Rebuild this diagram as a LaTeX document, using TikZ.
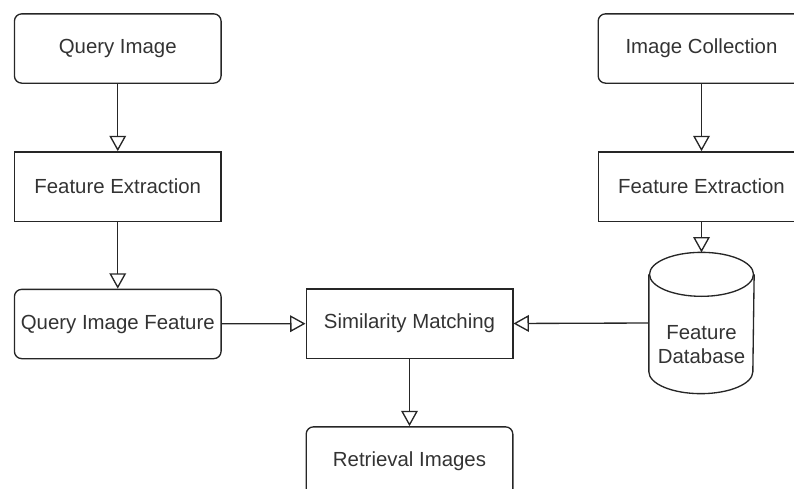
\documentclass[tikz,border=0pt]{standalone}
\usepackage{fontspec}
\setmainfont{Liberation Sans}
\usetikzlibrary{arrows.meta}

\begin{document}
\begin{tikzpicture}[x=0.75pt,y=-0.75pt,line width=1pt]
        \tikzstyle{step box}=[rectangle,draw=black!85,minimum width=155pt,minimum height=52pt,inner sep=0pt,text=black!80,font=\fontsize{15.3}{18}\selectfont]
        \tikzstyle{terminal}=[step box,rounded corners=5.5pt]
        \tikzstyle{edge}=[draw,black!85,-{Triangle[open,length=11.5pt,width=12.5pt]}]
        \clip (0,0) rectangle (794,489);
       \begin{scope}
         % query side
         \node [terminal] (qimg) at (117.75,48.5) {Query Image};
         \node [step box] (fextl) at (117.75,186.5) {Feature Extraction};
         \node [terminal] (qfeat) at (117.75,324) {Query Image Feature};
         % collection side
         \node [terminal] (icoll) at (701.5,48.5) {Image Collection};
         \node [step box] (fextr) at (701.5,186.5) {Feature Extraction};
         \node [minimum width=78pt,minimum height=105pt,inner sep=0pt] (db) at (701.5,323) {};
         \node [align=center,text=black!80,font=\fontsize{15.3}{18}\selectfont] (dbtext) at ([yshift=-16.5pt]db.center) {Feature\\Database};
         \draw [black!85] ([yshift=-16.5pt]db.north) ellipse [x radius=39pt,y radius=16.5pt];
         \draw [black!85] ([yshift=-16.5pt]db.north west) -- ([yshift=16.5pt]db.south west)
               arc [start angle=180,end angle=360,x radius=39pt,y radius=16.5pt]
               -- ([yshift=-16.5pt]db.north east);
         % matching and result
         \node [step box] (simm) at (409.5,323.5) {Similarity Matching};
         \node [terminal] (retr) at (409.5,461.5) {Retrieval Images};
         \path[edge] (qimg) -- (fextl);
         \path[edge] (fextl) -- (qfeat);
         \path[edge] (icoll) -- (fextr);
         \path[edge] (fextr) -- (db.north);
         \path[edge] (qfeat) -- (simm);
         \path[edge] (db.west) -- (simm.east);
         \path[edge] (simm) -- (retr);
        \end{scope}
      \end{tikzpicture}
\end{document}
